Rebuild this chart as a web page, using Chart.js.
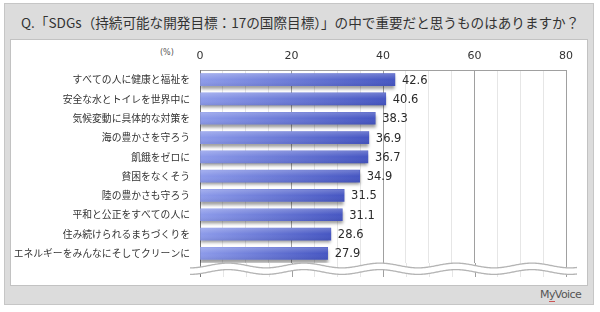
<!DOCTYPE html>
<html><head><meta charset="utf-8">
<script src="https://cdn.jsdelivr.net/npm/chart.js@4"></script>
<style>
html,body{margin:0;padding:0;background:#fff;}
#wrap{position:relative;width:600px;height:312px;overflow:hidden;}
#outer{position:absolute;left:4px;top:3px;width:588px;height:300px;background:#dcdcdc;border:1px solid #c6c6c6;}
#panel{position:absolute;left:10px;top:39px;width:576px;height:245px;background:#fff;border:1px solid #c2c2c2;}
#title{position:absolute;left:21px;top:12px;font-family:"Noto Sans CJK JP";font-size:13.6px;color:#333;white-space:nowrap;line-height:20px;}
#unit{position:absolute;left:160px;top:48px;font-family:"DejaVu Sans";font-size:8px;color:#555;}
#logo{position:absolute;left:540px;top:288px;font-family:"DejaVu Sans";font-size:11px;color:#555;letter-spacing:-0.6px;}
#logo span{border-bottom:1px solid #c55;}
canvas{position:absolute;left:0;top:0;}
</style></head>
<body><div id="wrap">
<div id="outer"></div><div id="panel"></div>
<div id="title">Q.「SDGs（持続可能な開発目標：17の国際目標）」の中で重要だと思うものはありますか？</div>
<div id="unit">(%)</div>
<div id="logo">M<span>y</span>Voice</div>
<canvas id="c" width="600" height="312"></canvas>
</div>
<script>
const categories = ["すべての人に健康と福祉を","安全な水とトイレを世界中に","気候変動に具体的な対策を","海の豊かさを守ろう","飢餓をゼロに","貧困をなくそう","陸の豊かさも守ろう","平和と公正をすべての人に","住み続けられるまちづくりを","エネルギーをみんなにそしてクリーンに"];
const values = [42.6,40.6,38.3,36.9,36.7,34.9,31.5,31.1,28.6,27.9];
const tickLabels = [0,20,40,60,80];

function barFill(ctx){
  const chart = ctx.chart; const xs = chart.scales.x;
  if(!xs || !chart.chartArea) return '#6070d0';
  const v = ctx.raw; const x0 = xs.getPixelForValue(0), x1 = xs.getPixelForValue(v);
  const g = chart.ctx.createLinearGradient(x0,0,x1,0);
  g.addColorStop(0,'#8d9bea'); g.addColorStop(1,'#4656c2');
  return g;
}

const decor = {
  id:'decor',
  beforeDatasetsDraw(chart){
    const c = chart.ctx; c.save();
    c.shadowColor='rgba(0,0,0,0.38)'; c.shadowOffsetY=3; c.shadowOffsetX=0; c.shadowBlur=3;
  },
  afterDatasetsDraw(chart){
    const c = chart.ctx; c.restore();
    const meta = chart.getDatasetMeta(0);
    c.save();
    meta.data.forEach(b=>{
      const h = b.height, top = b.y - h/2;
      const g = c.createLinearGradient(0,top,0,top+h);
      g.addColorStop(0,'rgba(255,255,255,0.22)'); g.addColorStop(0.5,'rgba(255,255,255,0)'); g.addColorStop(1,'rgba(0,0,40,0.08)');
      c.fillStyle=g; c.fillRect(b.base, top, b.x-b.base, h);
    });
    c.font='11.5px "DejaVu Sans"'; c.fillStyle='#2a2a2a'; c.textAlign='left'; c.textBaseline='middle';
    meta.data.forEach((b,i)=>{ c.fillText(values[i].toFixed(1), b.x+7, b.y+1); });
    const xs = chart.scales.x, a = chart.chartArea;
    const ext = a.bottom + 14;
    for(let v=0; v<=80; v+=5){
      const x = Math.round(xs.getPixelForValue(v))+0.5;
      c.strokeStyle = (v%20===0)?'#a0a0a0':'#e6e6e6'; c.lineWidth=1;
      if(v===0) c.strokeStyle='#777';
      c.beginPath(); c.moveTo(x,a.bottom); c.lineTo(x,ext); c.stroke();
    }
    const xL = a.left-10, xR = a.right+11, per = 76, amp = 2.4;
    const y1 = a.bottom+2.5, y2 = a.bottom+9;
    const wave = (y0)=>{ const pts=[]; for(let x=xL;x<=xR;x+=1){pts.push([x,y0+amp*Math.sin((x-xL)/per*2*Math.PI+Math.PI/2)]);} return pts; };
    const p1 = wave(y1), p2 = wave(y2);
    c.beginPath(); p1.forEach((p,i)=> i?c.lineTo(p[0],p[1]):c.moveTo(p[0],p[1]));
    for(let i=p2.length-1;i>=0;i--) c.lineTo(p2[i][0],p2[i][1]);
    c.closePath(); c.fillStyle='#fff'; c.fill();
    c.strokeStyle='#b4b4b4'; c.lineWidth=1.3;
    [p1,p2].forEach(pp=>{ c.beginPath(); pp.forEach((p,i)=> i?c.lineTo(p[0],p[1]):c.moveTo(p[0],p[1])); c.stroke(); });
    c.restore();
  }
};

new Chart(document.getElementById('c'),{
  type:'bar',
  data:{labels:categories,datasets:[{data:values,backgroundColor:barFill,borderWidth:0,barThickness:12}]},
  options:{
    indexAxis:'y', responsive:false, animation:false, devicePixelRatio:1,
    layout:{padding:{left:0,top:0,right:34,bottom:49}},
    plugins:{legend:{display:false},tooltip:{enabled:false}},
    scales:{
      x:{position:'top',min:0,max:80,
        afterFit(s){s.height=70;},
        afterBuildTicks(s){ const t=[]; for(let v=0;v<=80;v+=5) t.push({value:v}); s.ticks=t; },
        ticks:{padding:7,color:'#333',font:{family:'DejaVu Sans',size:11},autoSkip:false,maxRotation:0,
          callback:(v)=> tickLabels.includes(v)? String(v):''},
        grid:{drawTicks:false,color:(c)=> (c.tick && c.tick.value%20===0)?'#a0a0a0':'#e6e6e6'},
        border:{display:true,color:'#a0a0a0'}
      },
      y:{afterFit(s){s.width=200;},
        ticks:{padding:10,color:'#333',font:{family:'Noto Sans CJK JP',size:9.8},autoSkip:false},
        grid:{display:false,drawTicks:false},
        border:{display:true,color:'#777'}
      }
    }
  },
  plugins:[decor]
});
</script>
</body></html>
